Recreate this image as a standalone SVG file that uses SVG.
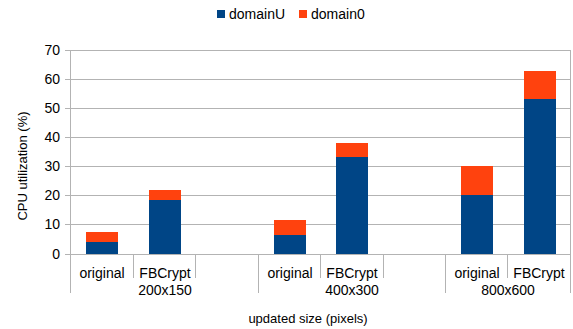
<svg xmlns="http://www.w3.org/2000/svg" width="573" height="329" viewBox="0 0 573 329">
<style>
text{font-family:"Liberation Sans",Arial,sans-serif;fill:#000}
.lbl{font-size:14px}
.ttl{font-size:13px}
.grid{stroke:#b3b3b3;stroke-width:1;fill:none}
.u{fill:#004586}
.d{fill:#ff420e}
</style>
<rect width="573" height="329" fill="#fff"/>
<g id="legend">
<rect class="u" x="217" y="10" width="8" height="8"/>
<text class="lbl" x="229" y="19">domainU</text>
<rect class="d" x="299" y="10" width="8" height="8"/>
<text class="lbl" x="311" y="19">domain0</text>
</g>
<g id="grid" class="grid">
<path d="M65 50.5H570.5M65 79.5H570.5M65 108.5H570.5M65 137.5H570.5M65 166.5H570.5M65 195.5H570.5M65 224.5H570.5M65 254.5H570.5"/>
<path d="M70.5 50V293M570.5 50V293M258.5 254V293M445.5 254V293M133.5 254V278M195.5 254V278M320.5 254V278M383.5 254V278M507.5 254V278"/>
</g>
<g id="yaxis" class="lbl" text-anchor="end">
<text x="60" y="55">70</text>
<text x="60" y="84">60</text>
<text x="60" y="113">50</text>
<text x="60" y="142">40</text>
<text x="60" y="171">30</text>
<text x="60" y="200">20</text>
<text x="60" y="229">10</text>
<text x="60" y="259">0</text>
</g>
<g id="bars">
<rect class="u" x="86" y="242" width="32" height="12"/>
<rect class="d" x="86" y="232" width="32" height="10"/>
<rect class="u" x="149" y="200" width="32" height="54"/>
<rect class="d" x="149" y="190" width="32" height="10"/>
<rect class="u" x="274" y="235" width="32" height="19"/>
<rect class="d" x="274" y="220" width="32" height="15"/>
<rect class="u" x="336" y="157" width="32" height="97"/>
<rect class="d" x="336" y="143" width="32" height="14"/>
<rect class="u" x="461" y="195" width="32" height="59"/>
<rect class="d" x="461" y="166" width="32" height="29"/>
<rect class="u" x="524" y="99" width="32" height="155"/>
<rect class="d" x="524" y="71" width="32" height="28"/>
</g>
<g id="xaxis" class="lbl" text-anchor="middle">
<text x="102" y="278">original</text>
<text x="165" y="278">FBCrypt</text>
<text x="165" y="295">200x150</text>
<text x="290" y="278">original</text>
<text x="352" y="278">FBCrypt</text>
<text x="352" y="295">400x300</text>
<text x="477" y="278">original</text>
<text x="539" y="278">FBCrypt</text>
<text x="508" y="295">800x600</text>
</g>
<g id="titles" class="ttl" text-anchor="middle">
<text x="308" y="323">updated size (pixels)</text>
<text transform="translate(26.5 166) rotate(-90)">CPU utilization (%)</text>
</g>
</svg>
